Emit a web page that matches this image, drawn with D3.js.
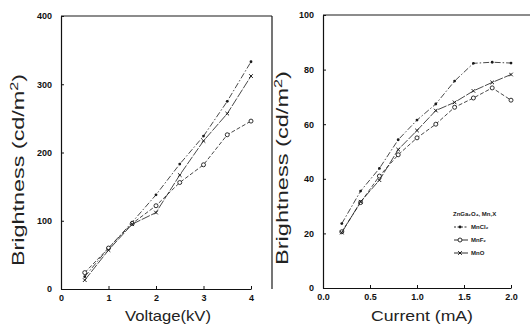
<!DOCTYPE html>
<html>
<head>
<meta charset="utf-8">
<script src="https://cdn.jsdelivr.net/npm/d3@7"></script>
<style>
  body { margin: 0; background: #fff; }
  svg { display: block; font-family: "Liberation Sans", Arial, sans-serif; }
  .tick text { font-weight: bold; font-size: 9px; fill: #111; }
  .domain, .tick line { stroke: #111; }
  .title { font-family: "Liberation Sans", Arial, sans-serif; fill: #222; }
</style>
</head>
<body>
<div id="chart"></div>
<script>
// left panel: brightness vs voltage
const voltage = [0.5, 1, 1.5, 2, 2.5, 3, 3.5, 4];
const vMnCl2 = [18, 60, 98, 138, 183, 224, 275, 333];
const vMnF2 = [24, 60, 96, 122, 156, 182, 226, 246];
const vMnO = [13, 57, 95, 112, 167, 217, 257, 312];
const voltTicks = [0, 1, 2, 3, 4];
const voltYTicks = [0, 100, 200, 300, 400];

// right panel: brightness vs current
const current = [0.2, 0.4, 0.6, 0.8, 1.0, 1.2, 1.4, 1.6, 1.8, 2.0];
const cMnCl2 = [23.6, 35.5, 43.8, 54.3, 61.5, 67.4, 75.8, 82.3, 82.7, 82.4];
const cMnF2 = [20.6, 31.3, 41, 48.8, 55, 60, 66.2, 69.6, 73.3, 68.8];
const cMnO = [20.3, 31.6, 39.5, 50.7, 57.7, 65, 68, 72.2, 75.3, 78.2];
const currTicks = [0, 0.5, 1.0, 1.5, 2.0];
const currYTicks = [0, 20, 40, 60, 80, 100];

const legendTitle = 'ZnGa\u2082O\u2084, Mn,X';
const seriesNames = ['MnCl\u2082', 'MnF\u2082', 'MnO'];

const width = 530, height = 326;
const ink = '#1a1a1a';

const svg = d3.select('#chart').append('svg')
  .attr('width', width)
  .attr('height', height);

const styles = [
  { dash: '6,2,1.5,2', marker: 'dot' },
  { dash: '4,2', marker: 'circle' },
  { dash: '9,1.5', marker: 'cross' }
];

function drawPanel(opts) {
  const x = d3.scaleLinear().domain(opts.xDomain).range([opts.left, opts.right]);
  const y = d3.scaleLinear().domain(opts.yDomain).range([opts.bottom, opts.top]);
  const g = svg.append('g');

  g.append('g')
    .attr('transform', `translate(0,${opts.bottom})`)
    .call(d3.axisBottom(x).tickValues(opts.xTicks).tickFormat(opts.xFormat)
      .tickSizeInner(-3).tickSizeOuter(0).tickPadding(6))
    .call(a => a.select('.domain').attr('stroke-width', 1.2));

  g.append('g')
    .attr('transform', `translate(${opts.left},0)`)
    .call(d3.axisLeft(y).tickValues(opts.yTicks).tickFormat(opts.yFormat)
      .tickSizeInner(-3).tickSizeOuter(0).tickPadding(9))
    .call(a => a.select('.domain').attr('stroke-width', 1.2));

  // frame top / right
  g.append('line')
    .attr('x1', opts.left).attr('x2', opts.frameRight)
    .attr('y1', opts.top).attr('y2', opts.top)
    .attr('stroke', ink).attr('stroke-width', 1.2);
  if (opts.rightBorder) {
    g.append('line')
      .attr('x1', opts.frameRight).attr('x2', opts.frameRight)
      .attr('y1', opts.top).attr('y2', opts.bottom)
      .attr('stroke', ink).attr('stroke-width', 1.2);
  }

  const line = d3.line().x(d => x(d[0])).y(d => y(d[1]));
  opts.series.forEach((vals, i) => {
    const pts = opts.xs.map((v, j) => [v, vals[j]]);
    g.append('path')
      .datum(pts)
      .attr('d', line)
      .attr('fill', 'none')
      .attr('stroke', ink)
      .attr('stroke-width', 0.8)
      .attr('stroke-dasharray', styles[i].dash);
    drawMarkers(g, pts.map(p => [x(p[0]), y(p[1])]), styles[i].marker);
  });

  g.append('text')
    .attr('class', 'title')
    .attr('x', opts.xTitleX)
    .attr('y', 321)
    .attr('text-anchor', 'middle')
    .attr('font-size', 15)
    .attr('textLength', opts.xTitleLen)
    .attr('lengthAdjust', 'spacingAndGlyphs')
    .text(opts.xTitle);

  const yt = g.append('text')
    .attr('class', 'title')
    .attr('transform', `translate(${opts.yTitleX},${opts.yTitleY}) rotate(-90)`)
    .attr('text-anchor', 'middle')
    .attr('font-size', 16)
    .attr('textLength', opts.yTitleLen)
    .attr('lengthAdjust', 'spacingAndGlyphs');
  yt.append('tspan').text('Brightness (cd/m');
  yt.append('tspan').attr('dy', -6).attr('font-size', 11).text('2');
  yt.append('tspan').attr('dy', 6).text(')');
}

function drawMarkers(g, pts, kind) {
  pts.forEach(p => {
    if (kind === 'dot') {
      g.append('circle').attr('cx', p[0]).attr('cy', p[1]).attr('r', 1.4).attr('fill', ink);
    } else if (kind === 'circle') {
      g.append('circle').attr('cx', p[0]).attr('cy', p[1]).attr('r', 2)
        .attr('fill', '#fff').attr('stroke', ink).attr('stroke-width', 0.9);
    } else {
      const s = 1.8;
      g.append('path')
        .attr('d', `M${p[0] - s},${p[1] - s}L${p[0] + s},${p[1] + s}M${p[0] - s},${p[1] + s}L${p[0] + s},${p[1] - s}`)
        .attr('stroke', ink).attr('stroke-width', 1);
    }
  });
}

drawPanel({
  xs: voltage, series: [vMnCl2, vMnF2, vMnO],
  xDomain: [0, 4], yDomain: [0, 400],
  left: 61, right: 251, top: 16, bottom: 289, frameRight: 272, rightBorder: true,
  xTicks: voltTicks, yTicks: voltYTicks,
  xFormat: d3.format('d'), yFormat: d3.format('d'),
  xTitle: 'Voltage(kV)', xTitleX: 168, xTitleLen: 86,
  yTitleX: 24, yTitleY: 170, yTitleLen: 192
});

drawPanel({
  xs: current, series: [cMnCl2, cMnF2, cMnO],
  xDomain: [0, 2.0], yDomain: [0, 100],
  left: 323, right: 511, top: 15, bottom: 288, frameRight: 530, rightBorder: false,
  xTicks: currTicks, yTicks: currYTicks,
  xFormat: d3.format('.1f'), yFormat: d3.format('d'),
  xTitle: 'Current (mA)', xTitleX: 422, xTitleLen: 102,
  yTitleX: 288, yTitleY: 168, yTitleLen: 194
});

// legend
const lg = svg.append('g').attr('transform', 'translate(453,216)');
lg.append('text').attr('x', 0).attr('y', 0).attr('font-size', 6).attr('font-weight', 'bold')
  .attr('fill', ink).text(legendTitle);
seriesNames.forEach((name, i) => {
  const yy = 13 + i * 13;
  lg.append('line').attr('x1', 1).attr('x2', 15).attr('y1', yy - 2).attr('y2', yy - 2)
    .attr('stroke', ink).attr('stroke-width', 0.9).attr('stroke-dasharray', i === 0 ? '2,1.5' : null);
  drawMarkers(lg, [[7, yy - 2]], styles[i].marker);
  lg.append('text').attr('x', 18).attr('y', yy).attr('font-size', 6).attr('font-weight', 'bold')
    .attr('fill', ink).text(name);
});
</script>
</body>
</html>
